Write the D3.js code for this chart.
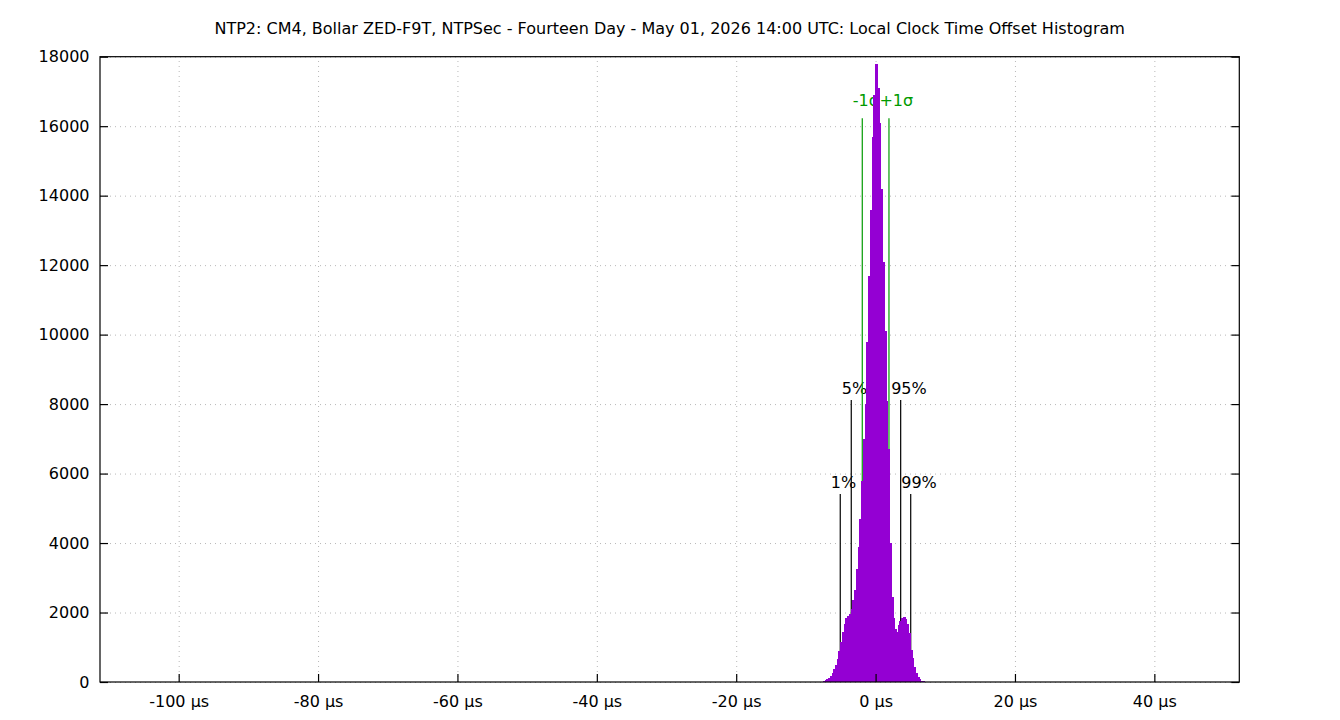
<!DOCTYPE html>
<html>
<head>
<meta charset="utf-8">
<script src="https://d3js.org/d3.v7.min.js"></script>
<style>
body { margin: 0; background: #fff; }
text { font-family: "DejaVu Sans", sans-serif; }
</style>
</head>
<body>
<div id="chart"></div>
<script>
var chartTitle = "NTP2: CM4, Bollar ZED-F9T, NTPSec - Fourteen Day - May 01, 2026 14:00 UTC: Local Clock Time Offset Histogram";

// histogram bins, offset in µs (bin centre) and sample count
var binWidth = 0.25;
var binCenters = [-7.375, -7.125, -6.875, -6.625, -6.375, -6.125, -5.875, -5.625, -5.375, -5.125,
    -4.875, -4.625, -4.375, -4.125, -3.875, -3.625, -3.375, -3.125, -2.875, -2.625,
    -2.375, -2.125, -1.875, -1.625, -1.375, -1.125, -0.875, -0.625, -0.375, -0.125,
    0.125, 0.375, 0.625, 0.875, 1.125, 1.375, 1.625, 1.875, 2.125, 2.375,
    2.625, 2.875, 3.125, 3.375, 3.625, 3.875, 4.125, 4.375, 4.625, 4.875,
    5.125, 5.375, 5.625, 5.875, 6.125, 6.375, 6.625, 6.875, 7.125];
var binCounts = [20, 45, 80, 120, 180, 260, 380, 500, 670, 900,
    1150, 1440, 1680, 1840, 1900, 1960, 2100, 2350, 2650, 3250,
    3900, 4700, 5800, 7000, 8000, 9800, 11700, 13600, 15700, 16900,
    17800, 17100, 16100, 14200, 12100, 10100, 8100, 6700, 4000, 2450,
    1850, 1520, 1450, 1650, 1760, 1840, 1880, 1800, 1680, 1400,
    920, 680, 430, 260, 140, 80, 40, 15, 5];

// percentile and sigma markers
var markerLabels = ["1%", "5%", "-1σ", "+1σ", "95%", "99%"];
var markerOffsets = [-5.07, -3.49, -1.91, 1.92, 3.60, 5.04];
var markerHeights = [5410, 8120, 16230, 16230, 8120, 5410];
var markerIsSigma = [false, false, true, true, false, false];

var xTicks = [-100, -80, -60, -40, -20, 0, 20, 40];
var yTicks = [0, 2000, 4000, 6000, 8000, 10000, 12000, 14000, 16000, 18000];
var xDomain = [-111.29, 52.19];
var yDomain = [0, 18000];

var width = 1340, height = 720;
var margin = {top: 56.7, right: 100.7, bottom: 38, left: 100};
var plotW = width - margin.left - margin.right,
    plotH = height - margin.top - margin.bottom;

var histColor = "#9400d3",
    sigmaColor = "#009a00",
    fontSize = "16px";

var svg = d3.select("#chart").append("svg")
    .attr("width", width)
    .attr("height", height);

var x = d3.scaleLinear().domain(xDomain).range([0, plotW]);
var y = d3.scaleLinear().domain(yDomain).range([plotH, 0]);

var g = svg.append("g")
    .attr("transform", "translate(" + margin.left + "," + margin.top + ")");

// title
svg.append("text")
    .attr("x", margin.left + plotW / 2)
    .attr("y", 34)
    .attr("text-anchor", "middle")
    .style("font-size", fontSize)
    .text(chartTitle);

/***** grid ******/
var gridX = g.append("g")
    .attr("transform", "translate(0," + plotH + ")")
    .call(d3.axisBottom(x).tickValues(xTicks).tickSize(-plotH).tickFormat(""));
var gridY = g.append("g")
    .call(d3.axisLeft(y).tickValues(yTicks).tickSize(-plotW).tickFormat(""));
[gridX, gridY].forEach(function(gr) {
    gr.select(".domain").remove();
    gr.selectAll("line")
        .attr("stroke", "#b8b8b8")
        .attr("stroke-width", 1)
        .attr("stroke-dasharray", "1,4");
});

/***** marker lines (drawn under the histogram) ******/
markerOffsets.forEach(function(m, i) {
    var col = markerIsSigma[i] ? sigmaColor : "#000";
    // sigma labels sit a bit higher above their line than the percentiles
    var lift = markerIsSigma[i] ? 12.5 : 6;
    g.append("line")
        .attr("x1", x(m)).attr("x2", x(m))
        .attr("y1", y(0)).attr("y2", y(markerHeights[i]))
        .attr("stroke", col)
        .attr("stroke-width", 1.2);
    g.append("text")
        .attr("x", x(m) - 9.5)
        .attr("y", y(markerHeights[i]) - lift)
        .attr("text-anchor", "start")
        .style("font-size", fontSize)
        .attr("fill", col)
        .text(markerLabels[i]);
});

/***** histogram ******/
// pixel-snapped edges so neighbouring boxes touch without gaps
var bins = binCenters.map(function(c, i) { return {c: c, n: binCounts[i]}; });
g.selectAll("rect.bin")
    .data(bins)
    .enter().append("rect")
    .attr("class", "bin")
    .attr("x", function(d) { return Math.floor(x(d.c - binWidth / 2)); })
    .attr("width", function(d) {
        return Math.ceil(x(d.c + binWidth / 2)) - Math.floor(x(d.c - binWidth / 2));
    })
    .attr("y", function(d) { return y(d.n); })
    .attr("height", function(d) { return y(0) - y(d.n); })
    .attr("fill", histColor)
    .attr("shape-rendering", "crispEdges");

/***** axes ******/
var xAxis = g.append("g")
    .attr("transform", "translate(0," + plotH + ")")
    .call(d3.axisBottom(x).tickValues(xTicks).tickSize(-8).tickPadding(14)
        .tickFormat(function(d) { return d + " µs"; }));
var yAxis = g.append("g")
    .call(d3.axisLeft(y).tickValues(yTicks).tickSize(-8).tickPadding(10.5)
        .tickFormat(d3.format("d")));
var yAxisR = g.append("g")
    .attr("transform", "translate(" + plotW + ",0)")
    .call(d3.axisRight(y).tickValues(yTicks).tickSize(-8).tickFormat(""));

[xAxis, yAxis, yAxisR].forEach(function(ax) {
    ax.select(".domain").remove();
    ax.selectAll("line").attr("stroke", "#000").attr("stroke-width", 1.2);
    ax.selectAll("text")
        .attr("fill", "#000")
        .style("font-family", "DejaVu Sans, sans-serif")
        .style("font-size", fontSize);
});

// plot border
g.append("rect")
    .attr("x", 0).attr("y", 0)
    .attr("width", plotW).attr("height", plotH)
    .attr("fill", "none")
    .attr("stroke", "#000")
    .attr("stroke-width", 1.2);
</script>
</body>
</html>
